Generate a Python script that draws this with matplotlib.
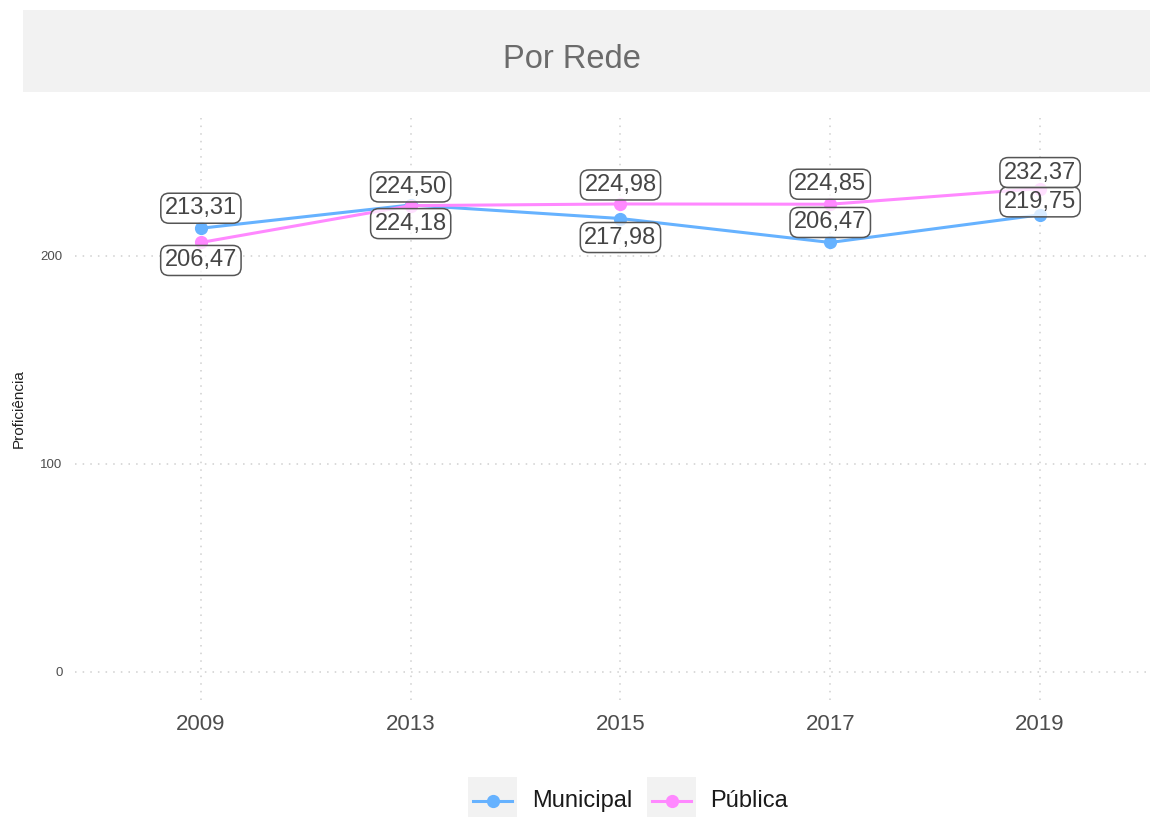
import matplotlib
matplotlib.use("Agg")
from matplotlib import pyplot as plt
from matplotlib.patches import Rectangle
from matplotlib.lines import Line2D

plt.rcParams['font.family'] = ['Liberation Sans', 'DejaVu Sans']

# dados
anos = ["2009", "2013", "2015", "2017", "2019"]
municipal = [213.31, 224.50, 217.98, 206.47, 219.75]
publica = [206.47, 224.18, 224.98, 224.85, 232.37]
series_nomes = ["Municipal", "Pública"]
y_ticks = [0, 100, 200]

cores = ["#66B2FF", "#FF88FF"]

# deslocamento vertical dos rótulos (px, negativo = acima)
desloc_municipal = [-20, -18, 19, -20, -13]
desloc_publica = [18, 18, -19, -20, -16]

W, H = 1150, 817
fig = plt.figure(figsize=(W / 100, H / 100), dpi=100)

# faixa do título
fig.add_artist(Rectangle((23 / W, 1 - 92 / H), 1 - 23 / W, 82 / H,
                         transform=fig.transFigure, facecolor="#f2f2f2",
                         edgecolor="none", zorder=0))
fig.text(571.5 / W, 1 - 59 / H, "Por Rede", ha="center", va="center",
         fontsize=23.5, color="#6b6b6b")

ax = fig.add_axes([75 / W, 1 - 700 / H, (1146 - 75) / W, (700 - 118) / H])
x = list(range(len(anos)))

for valores, cor in zip([municipal, publica], cores):
    ax.plot(x, valores, color=cor, linewidth=2.2, marker="o",
            markersize=8.5, zorder=3)

def rotulo(v):
    return f"{v:.2f}".replace(".", ",")

for valores, desl in [(municipal, desloc_municipal), (publica, desloc_publica)]:
    for xi, v, d in zip(x, valores, desl):
        ax.annotate(rotulo(v), (xi, v), xytext=(0, -d * 0.72),
                    textcoords="offset points", ha="center", va="center",
                    fontsize=17, color="#454545", zorder=5,
                    bbox=dict(boxstyle="round,pad=0.17,rounding_size=0.35",
                              facecolor=(1, 1, 1, 0.75), edgecolor="#555555",
                              linewidth=1.1))

ax.set_xlim(-0.6, 4.505)
ax.set_ylim(-13.46, 266.3)
ax.set_xticks(x)
ax.set_xticklabels(anos)
ax.set_yticks(y_ticks)
ax.tick_params(axis="x", length=0, pad=10, labelsize=16, labelcolor="#4d4d4d")
ax.tick_params(axis="y", length=0, pad=9, labelsize=9.5, labelcolor="#4d4d4d")
ax.grid(True, color="#cfcfcf", linestyle=(0, (1, 4)), linewidth=1.1)
ax.set_axisbelow(True)
for s in ax.spines.values():
    s.set_visible(False)
ax.set_ylabel("Proficiência", fontsize=11, color="#222222")
ax.yaxis.set_label_coords((26 - 75) / 1071, 0.5)

# legenda
chaves_x = [468, 647]
textos_x = [532, 710]
for nome, cor, kx, tx in zip(series_nomes, cores, chaves_x, textos_x):
    fig.add_artist(Rectangle((kx / W, 0), 49 / W, 40 / H,
                             transform=fig.transFigure, facecolor="#f2f2f2",
                             edgecolor="none"))
    fig.add_artist(Line2D([(kx + 5) / W, (kx + 44) / W], [1 - 801 / H] * 2,
                          transform=fig.transFigure, color=cor, linewidth=2.2))
    fig.add_artist(Line2D([(kx + 24.5) / W], [1 - 801 / H],
                          transform=fig.transFigure, color=cor, marker="o",
                          markersize=8.5))
    fig.text(tx / W, 1 - 801 / H, nome, ha="left", va="center",
             fontsize=17, color="#1a1a1a")

fig.savefig("out.png", dpi=100)
